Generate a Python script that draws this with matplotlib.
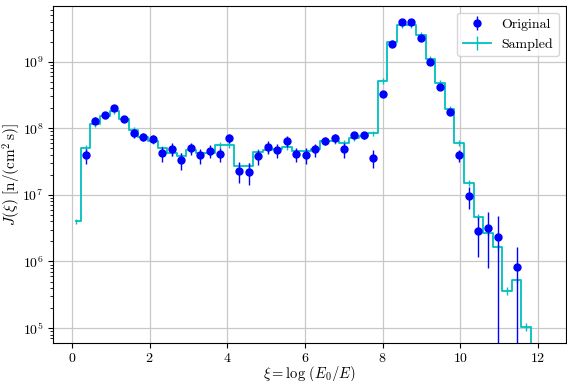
import numpy as np
import matplotlib
matplotlib.use("Agg")
import matplotlib.pyplot as plt

plt.rcParams['font.family'] = 'serif'
plt.rcParams['font.serif'] = ['cmr10']
plt.rcParams['mathtext.fontset'] = 'cm'
plt.rcParams['axes.formatter.use_mathtext'] = True
plt.rcParams['font.size'] = 10

# original spectrum, xi = log(E0/E)
xi_orig = [0.35, 0.60, 0.85, 1.09, 1.34, 1.59, 1.83, 2.08, 2.33, 2.57,
           2.82, 3.07, 3.31, 3.56, 3.81, 4.05, 4.30, 4.55, 4.79, 5.04,
           5.29, 5.53, 5.78, 6.03, 6.27, 6.52, 6.77, 7.01, 7.26, 7.51,
           7.75, 8.00, 8.25, 8.49, 8.74, 8.99, 9.23, 9.48, 9.73, 9.97,
           10.22, 10.47, 10.71, 10.96, 11.21, 11.45]
J_orig = [3.9e7, 1.30e8, 1.58e8, 2.04e8, 1.36e8, 8.4e7, 7.5e7, 7.0e7, 4.2e7, 4.9e7,
          3.3e7, 5.0e7, 3.9e7, 4.6e7, 4.1e7, 7.1e7, 2.3e7, 2.2e7, 3.8e7, 5.3e7,
          4.7e7, 6.4e7, 4.1e7, 4.0e7, 4.8e7, 6.5e7, 7.1e7, 4.8e7, 7.9e7, 7.9e7,
          3.6e7, 3.3e8, 1.85e9, 3.9e9, 3.9e9, 2.3e9, 9.8e8, 4.2e8, 1.74e8, 3.9e7,
          9.7e6, 2.9e6, 3.2e6, 2.35e6, np.nan, 8.2e5]
relerr_orig = [0.25, 0.12, 0.10, 0.08, 0.10, 0.15, 0.15, 0.15, 0.25, 0.22,
               0.28, 0.22, 0.25, 0.22, 0.25, 0.15, 0.35, 0.35, 0.25, 0.22,
               0.25, 0.18, 0.25, 0.28, 0.22, 0.15, 0.15, 0.25, 0.12, 0.12,
               0.30, 0.05, 0.03, 0.02, 0.02, 0.03, 0.04, 0.05, 0.06, 0.20,
               0.36, 0.60, 0.75, 1.02, np.nan, 1.00]

# sampled spectrum
xi_samp = [0.11, 0.35, 0.60, 0.85, 1.09, 1.34, 1.59, 1.83, 2.08, 2.33, 2.57,
           2.82, 3.07, 3.31, 3.56, 3.81, 4.05, 4.30, 4.55, 4.79, 5.04,
           5.29, 5.53, 5.78, 6.03, 6.27, 6.52, 6.77, 7.01, 7.26, 7.51,
           7.75, 8.00, 8.25, 8.49, 8.74, 8.99, 9.23, 9.48, 9.73, 9.97,
           10.22, 10.47, 10.71, 10.96, 11.21, 11.45, 11.70, 11.95]
J_samp = [4.0e6, 5.1e7, 1.16e8, 1.53e8, 1.84e8, 1.37e8, 9.5e7, 7.5e7, 6.5e7, 5.0e7, 4.2e7,
          3.8e7, 4.7e7, 4.2e7, 4.2e7, 5.6e7, 5.6e7, 2.7e7, 2.7e7, 4.4e7, 4.7e7,
          4.8e7, 5.3e7, 4.5e7, 4.5e7, 4.8e7, 6.4e7, 6.4e7, 6.1e7, 7.2e7, 7.6e7,
          8.4e7, 5.1e8, 1.95e9, 3.6e9, 3.6e9, 2.5e9, 1.1e9, 4.8e8, 1.93e8, 6.0e7,
          1.5e7, 4.7e6, 2.65e6, 1.66e6, 3.6e5, 5.2e5, 1.05e5, 1.0e3]
relerr_samp = [0.10] * 45 + [0.13, 0.10, 0.15, 0.10]

J_orig = np.array(J_orig)
J_samp = np.array(J_samp)
err_orig = J_orig * np.array(relerr_orig)
err_samp = J_samp * np.array(relerr_samp)

fig = plt.figure(figsize=(5.67, 3.81), dpi=100)
ax = fig.add_axes([0.094, 0.1005, 0.904, 0.8845])

h_orig = ax.errorbar(xi_orig, J_orig, yerr=err_orig, fmt='o', color='blue',
                     markersize=5, elinewidth=1, label='Original', zorder=3)
h_samp = ax.errorbar(xi_samp, J_samp, yerr=err_samp, color='c', linewidth=1.3,
                     elinewidth=1, drawstyle='steps-mid', label='Sampled', zorder=2)

ax.set_yscale('log')
ax.set_xlim(-0.48, 12.72)
ax.set_ylim(10**4.78, 10**9.84)
ax.set_xlabel(r'$\xi = \log\,(E_0/E)$', fontsize=10.5)
ax.set_ylabel(r'$J(\xi)\ [\mathrm{n}/(\mathrm{cm}^2\,\mathrm{s})]$', fontsize=11)
ax.xaxis.set_label_coords(0.5, -0.064)
ax.yaxis.set_label_coords(-0.060, 0.5)
ax.grid(True, color='#c8c8c8', linewidth=0.9)
ax.set_axisbelow(True)
ax.legend(handles=[h_orig, h_samp], loc='upper right')

fig.savefig('out.png', dpi=100)
